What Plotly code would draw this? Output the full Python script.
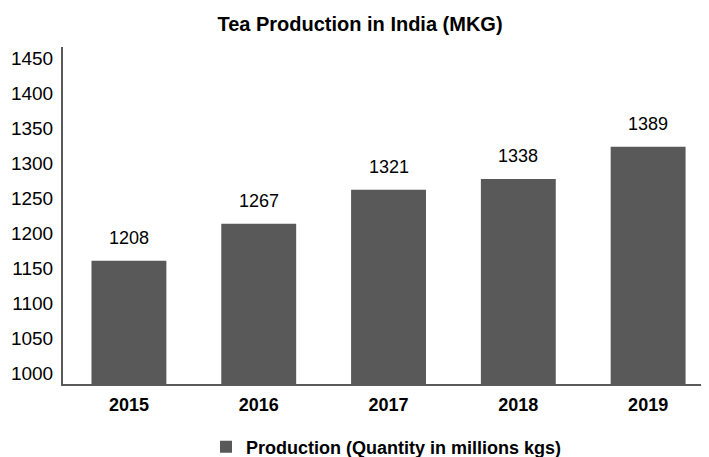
import plotly.graph_objects as go

# ---- data ----
years = ["2015", "2016", "2017", "2018", "2019"]
production = [1208, 1267, 1321, 1338, 1389]
tick_values = [1000, 1050, 1100, 1150, 1200, 1250, 1300, 1350, 1400, 1450]
series_name = "Production (Quantity in millions kgs)"
title_text = "Tea Production in India (MKG)"

BAR = "#595959"
AXIS = "#595959"
FONT = "Liberation Sans, Arial, sans-serif"
W, H = 701, 449  # page body adds an 8px margin

fig = go.Figure()
fig.add_trace(go.Bar(
    x=years, y=production, name="<b>" + series_name + "</b>",
    marker=dict(color=BAR, line=dict(width=0)),
    showlegend=True, cliponaxis=False,
))
# helper so the tick-label axis gets a subplot (draws nothing)
fig.add_trace(go.Scatter(
    x=years[:1], y=tick_values[:1], yaxis="y2", mode="none",
    showlegend=False, hoverinfo="skip",
))

annotations = []
for i, v in enumerate(production):
    annotations.append(dict(
        x=i, y=v, xref="x", yref="y", text=str(v), showarrow=False,
        yshift=23, xanchor="center", yanchor="middle",
        font=dict(size=18, color="#000000", family=FONT),
    ))

fig.update_layout(
    width=W, height=H,
    margin=dict(l=55, r=0, t=39, b=73, autoexpand=False),
    paper_bgcolor="white", plot_bgcolor="white",
    font=dict(family=FONT, size=18, color="#000000"),
    title=dict(text="<b>" + title_text + "</b>", xref="container", yref="container",
               x=352 / W, y=1 - 16 / H, xanchor="center", yanchor="middle",
               font=dict(size=20, color="#000000", family=FONT)),
    bargap=0.423,
    showlegend=True,
    legend=dict(orientation="h", xref="container", yref="container",
                x=198 / W, xanchor="left", y=(H - 439) / H, yanchor="middle",
                font=dict(size=18, color="#000000", family=FONT),
                bgcolor="rgba(0,0,0,0)"),
    xaxis=dict(type="category", range=[-0.508, 4.469], showline=True, linecolor=AXIS,
               linewidth=2, showgrid=False, ticks="", zeroline=False, automargin=False,
               tickfont=dict(size=18, color="#000000", family=FONT),
               tickvals=years, ticktext=["<b>" + y + "</b>" for y in years],
               ticklabelstandoff=3),
    yaxis=dict(range=[1012.4, 1547.5], showticklabels=False, showline=False,
               showgrid=False, ticks="", zeroline=False, automargin=False),
    yaxis2=dict(range=[984.3, 1465.7], overlaying="y", side="left", anchor="x",
                tickvals=tick_values, showline=True, linecolor=AXIS, linewidth=2,
                showgrid=False, ticks="", zeroline=False, automargin=False,
                ticklabelstandoff=4,
                tickfont=dict(size=19, color="#000000", family=FONT)),
    annotations=annotations,
)

fig.write_html("out.html")
